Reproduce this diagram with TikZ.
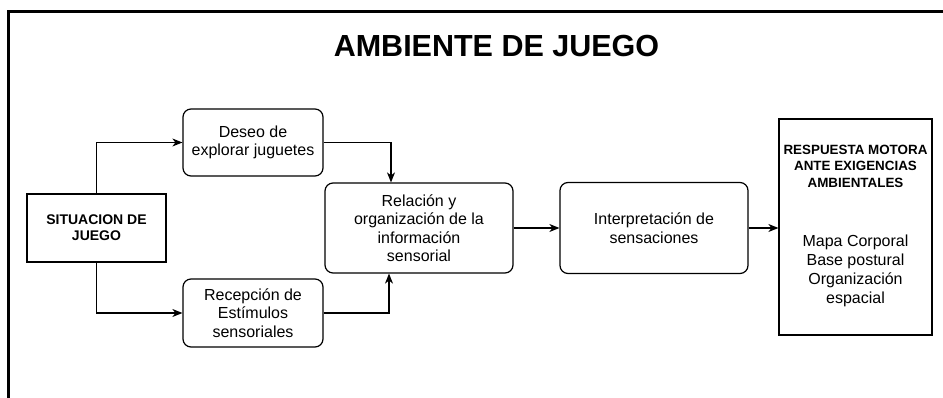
\documentclass[tikz,border=0pt]{standalone}
\usepackage{fontspec}
\setmainfont{Liberation Sans}
\usetikzlibrary{arrows.meta}
\begin{document}
\begin{tikzpicture}[x=1pt,y=-1pt,
  rbox/.style={draw, line width=1.2pt, rounded corners=8pt, align=center, inner sep=0pt,
    font=\fontsize{16}{18.5}\selectfont},
  sbox/.style={draw, line width=1.2pt, align=center, inner sep=0pt},
  arr/.style={line width=1.3pt, -{Stealth[length=10pt,width=8pt,inset=3pt]}},
  conn/.style={line width=1.3pt}]
\useasboundingbox (0,0) rectangle (943,398);
\draw[line width=3pt] (943,12) -- (8,12) -- (8,398);
\node[font=\fontsize{30.5}{36}\selectfont\bfseries] (title) at (496.5,46) {AMBIENTE DE JUEGO};

\node[sbox, minimum width=139pt, minimum height=68pt, font=\fontsize{14}{16}\selectfont\bfseries] (sit) at (96.5,228) {SITUACION DE\\JUEGO};
\node[rbox, minimum width=140pt, minimum height=67pt] (deseo) at (253,142.5) {Deseo de\\explorar juguetes};
\node[rbox, minimum width=140pt, minimum height=68pt] (recep) at (253,313) {Recepción de\\Estímulos\\sensoriales};
\node[rbox, minimum width=188pt, minimum height=90pt] (rel) at (419,228) {Relación y\\organización de la\\información\\sensorial};
\node[rbox, minimum width=188pt, minimum height=91pt] (interp) at (654,228) {Interpretación de\\sensaciones};
\node[sbox, minimum width=153pt, minimum height=216pt] (resp) at (855.5,227) {};
\node[align=center, inner sep=0pt, font=\fontsize{13.4}{16.5}\selectfont\bfseries] (respA) at (855.5,166) {RESPUESTA MOTORA\\ANTE EXIGENCIAS\\AMBIENTALES};
\node[align=center, inner sep=0pt, font=\fontsize{16}{19}\selectfont] (respB) at (855.5,271) {Mapa Corporal\\Base postural\\Organización\\espacial};

\draw[arr] (sit.north) |- (deseo.west);
\draw[arr] (sit.south) |- (recep.west);
\draw[arr] (deseo.east) -| ([xshift=-28pt]rel.north);
\draw[arr] (recep.east) -| ([xshift=-30pt]rel.south);
\draw[arr] (rel.east) -- (rel.east -| interp.west);
\draw[arr] (interp.east) -- (interp.east -| resp.west);
\end{tikzpicture}
\end{document}
